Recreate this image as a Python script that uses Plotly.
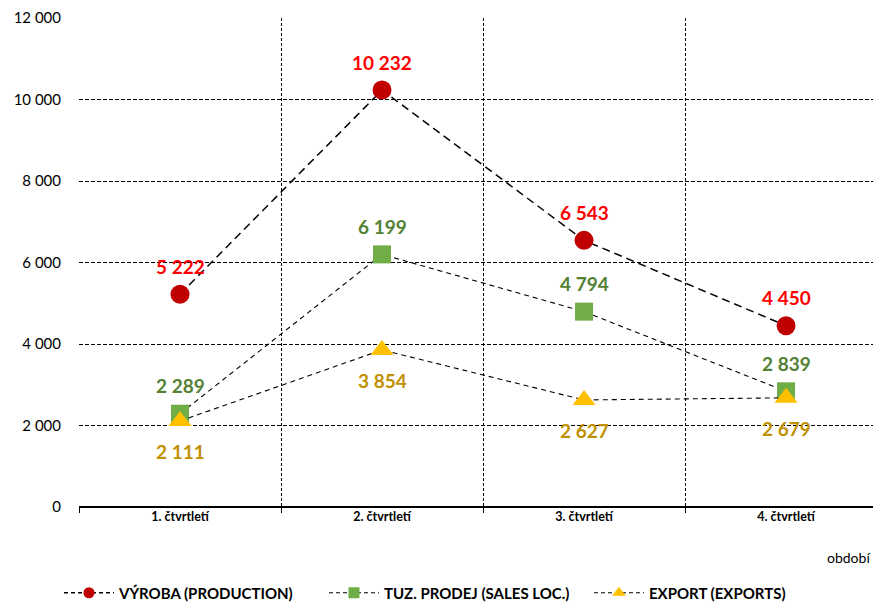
import plotly.graph_objects as go

categories = ["1. čtvrtletí", "2. čtvrtletí", "3. čtvrtletí", "4. čtvrtletí"]
vyroba = [5222, 10232, 6543, 4450]
tuz_prodej = [2289, 6199, 4794, 2839]
export = [2111, 3854, 2627, 2679]
y_ticks = [0, 2000, 4000, 6000, 8000, 10000, 12000]

FONT = "Lato, Carlito, 'Open Sans', sans-serif"

series = [
    dict(name="VÝROBA (PRODUCTION)", y=vyroba, symbol="circle", size=19, lsize=11,
         color="#C00000", lw=1.5, dash="8px,5px", tcolor="#FF0000", shift=28),
    dict(name="TUZ. PRODEJ (SALES LOC.)", y=tuz_prodej, symbol="square", size=18, lsize=11,
         color="#70AD47", lw=1.1, dash="5px,4px", tcolor="#548235", shift=28),
    dict(name="EXPORT (EXPORTS)", y=export, symbol="triangle-up", size=20, lsize=12,
         color="#FFC000", lw=1.1, dash="5px,4px", tcolor="#BF9000", shift=-31),
]

fig = go.Figure()
for s in series:
    fig.add_trace(go.Scatter(
        x=categories, y=s["y"], name=s["name"], mode="lines+markers",
        line=dict(color="black", width=s["lw"], dash=s["dash"]),
        marker=dict(symbol=s["symbol"], size=s["size"], color=s["color"]),
        showlegend=False,
    ))
for s in series:
    # legend-only entries with small symbols
    fig.add_trace(go.Scatter(
        x=[None], y=[None], name=s["name"], mode="lines+markers",
        line=dict(color="black", width=s["lw"], dash="4px,3px"),
        marker=dict(symbol=s["symbol"], size=s["lsize"], color=s["color"]),
        showlegend=True,
    ))
for s in series:
    for c, v in zip(categories, s["y"]):
        fig.add_annotation(
            x=c, y=v, text=f"{v:,}".replace(",", " "), showarrow=False,
            yshift=s["shift"], yanchor="middle",
            font=dict(color=s["tcolor"], size=19, family=FONT, weight="bold"),
        )

fig.add_annotation(
    xref="paper", yref="paper", x=1, y=-0.104, xanchor="right", yanchor="middle",
    text="období", showarrow=False, xshift=-9,
    font=dict(size=14, family=FONT, color="black"),
)

fig.update_layout(
    width=873, height=595,
    margin=dict(l=71, r=0, t=10, b=96, autoexpand=False),
    plot_bgcolor="white", paper_bgcolor="white",
    separators=", ",
    font=dict(family=FONT, color="black", size=13),
    showlegend=True,
    legend=dict(orientation="h", xref="container", yref="container",
                x=0.0584, xanchor="left", y=0.0168, yanchor="middle",
                font=dict(size=15, family=FONT, weight="bold"),
                itemwidth=50, entrywidth=200, entrywidthmode="pixels",
                traceorder="normal", tracegroupgap=0),
)
fig.update_xaxes(
    type="category", tickson="boundaries", automargin=False,
    showgrid=True, gridcolor="black", griddash="3px,2px", gridwidth=1,
    ticks="outside", ticklen=5, tickcolor="black",
    tickfont=dict(size=12.5, family=FONT, weight="bold"),
    range=[-0.5, 3.47], showline=False, zeroline=False,
)
fig.update_yaxes(
    range=[0, 12000], tickvals=y_ticks, tickformat=",d", automargin=False,
    showgrid=True, gridcolor="black", griddash="4px,2px", gridwidth=1,
    zeroline=True, zerolinecolor="black", zerolinewidth=2,
    tickfont=dict(size=15, family=FONT), ticks="", ticklabelstandoff=17,
)
fig.write_html("out.html")
